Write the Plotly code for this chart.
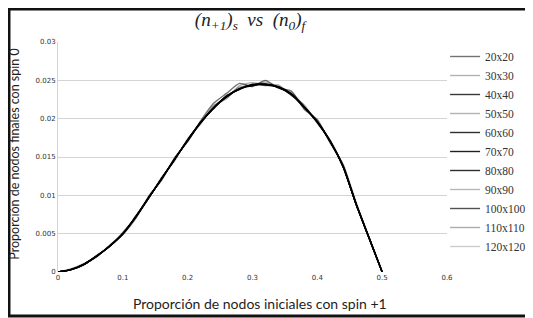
import plotly.graph_objects as go

x_vals = [0, 0.02, 0.04, 0.06, 0.08, 0.10, 0.12, 0.14, 0.16, 0.18, 0.20, 0.22, 0.24,
          0.26, 0.28, 0.30, 0.32, 0.34, 0.36, 0.38, 0.40, 0.42, 0.44, 0.46, 0.48, 0.50]

series_names = ["20x20", "30x30", "40x40", "50x50", "60x60", "70x70",
                "80x80", "90x90", "100x100", "110x110", "120x120"]

y_20 = [0, 0.0004, 0.0011, 0.0020, 0.0035, 0.0049, 0.0070, 0.0099, 0.0120, 0.0149, 0.0170, 0.0197, 0.0220,
        0.0233, 0.0246, 0.0242, 0.0250, 0.0240, 0.0236, 0.0212, 0.0199, 0.0168, 0.0140, 0.0090, 0.0045, 0]
y_30 = [0, 0.0003, 0.0009, 0.0022, 0.0033, 0.0052, 0.0071, 0.0096, 0.0124, 0.0145, 0.0174, 0.0193, 0.0217,
        0.0226, 0.0243, 0.0247, 0.0243, 0.0244, 0.0230, 0.0218, 0.0194, 0.0172, 0.0136, 0.0088, 0.0044, 0]
y_40 = [0, 0.0003, 0.0010, 0.0021, 0.0034, 0.0050, 0.0073, 0.0097, 0.0122, 0.0148, 0.0171, 0.0195, 0.0213,
        0.0230, 0.0238, 0.0245, 0.0244, 0.0242, 0.0232, 0.0214, 0.0196, 0.0170, 0.0137, 0.0088, 0.0044, 0]
y_50 = [0, 0.0003, 0.0010, 0.0020, 0.0035, 0.0051, 0.0072, 0.0098, 0.0121, 0.0147, 0.0173, 0.0194, 0.0216,
        0.0228, 0.0241, 0.0243, 0.0248, 0.0240, 0.0234, 0.0216, 0.0195, 0.0171, 0.0138, 0.0089, 0.0043, 0]
y_60 = [0, 0.0003, 0.0010, 0.0021, 0.0034, 0.0050, 0.0072, 0.0097, 0.0122, 0.0147, 0.0172, 0.0195, 0.0214,
        0.0229, 0.0239, 0.0244, 0.0245, 0.0241, 0.0232, 0.0215, 0.0196, 0.0170, 0.0137, 0.0088, 0.0044, 0]
y_70 = [0, 0.0003, 0.0010, 0.0021, 0.0034, 0.0050, 0.0072, 0.0097, 0.0122, 0.0147, 0.0172, 0.0195, 0.0214,
        0.0228, 0.0239, 0.0243, 0.0245, 0.0241, 0.0231, 0.0215, 0.0195, 0.0170, 0.0137, 0.0088, 0.0044, 0]
y_80 = [0, 0.0003, 0.0010, 0.0021, 0.0034, 0.0050, 0.0072, 0.0097, 0.0122, 0.0147, 0.0172, 0.0195, 0.0214,
        0.0229, 0.0239, 0.0244, 0.0244, 0.0241, 0.0232, 0.0215, 0.0196, 0.0170, 0.0137, 0.0088, 0.0044, 0]
y_90 = [0, 0.0003, 0.0010, 0.0021, 0.0034, 0.0050, 0.0072, 0.0098, 0.0122, 0.0148, 0.0172, 0.0196, 0.0215,
        0.0229, 0.0240, 0.0245, 0.0246, 0.0242, 0.0233, 0.0216, 0.0196, 0.0171, 0.0138, 0.0089, 0.0044, 0]
y_100 = [0, 0.0003, 0.0010, 0.0021, 0.0034, 0.0050, 0.0072, 0.0097, 0.0122, 0.0147, 0.0172, 0.0195, 0.0214,
         0.0229, 0.0239, 0.0244, 0.0245, 0.0241, 0.0232, 0.0215, 0.0196, 0.0170, 0.0137, 0.0088, 0.0044, 0]
y_110 = [0, 0.0003, 0.0010, 0.0021, 0.0034, 0.0050, 0.0072, 0.0097, 0.0122, 0.0147, 0.0172, 0.0195, 0.0214,
         0.0229, 0.0239, 0.0244, 0.0245, 0.0241, 0.0232, 0.0215, 0.0196, 0.0170, 0.0137, 0.0088, 0.0044, 0]
y_120 = [0, 0.0003, 0.0010, 0.0021, 0.0034, 0.0050, 0.0072, 0.0097, 0.0122, 0.0147, 0.0172, 0.0195, 0.0214,
         0.0229, 0.0239, 0.0244, 0.0245, 0.0241, 0.0232, 0.0215, 0.0196, 0.0170, 0.0137, 0.0088, 0.0044, 0]

series_values = [y_20, y_30, y_40, y_50, y_60, y_70, y_80, y_90, y_100, y_110, y_120]
series_colors = ["rgba(0,0,0,0.55)", "rgba(0,0,0,0.30)", "rgba(0,0,0,0.78)", "rgba(0,0,0,0.30)",
                 "rgba(0,0,0,0.82)", "rgba(0,0,0,0.88)", "rgba(0,0,0,0.82)", "rgba(0,0,0,0.28)",
                 "rgba(0,0,0,0.68)", "rgba(0,0,0,0.33)", "rgba(0,0,0,0.20)"]

x_ticks = [0, 0.1, 0.2, 0.3, 0.4, 0.5, 0.6]
x_tick_labels = ["0", "0.1", "0.2", "0.3", "0.4", "0.5", "0.6"]
y_ticks = [0, 0.005, 0.01, 0.015, 0.02, 0.025, 0.03]
y_tick_labels = ["0", "0.005", "0.01", "0.015", "0.02", "0.025", "0.03"]

title_text = "<i>(n<sub>+1</sub>)<sub>s</sub>  vs  (n<sub>0</sub>)<sub>f</sub></i>"
x_title = "Proporción de nodos iniciales con spin +1"
y_title = "Proporción de nodos finales con spin 0"

fig = go.Figure()
for name, ys, col in zip(series_names, series_values, series_colors):
    fig.add_trace(go.Scatter(x=x_vals, y=ys, mode="lines", name=name,
                             line=dict(color=col, width=1.4, shape="spline", smoothing=0.6)))

fig.update_layout(
    width=525, height=310,
    margin=dict(l=50, r=86, t=34, b=46, autoexpand=False),
    paper_bgcolor="white", plot_bgcolor="white",
    title=dict(text=title_text, x=0.461, xanchor="center", y=0.962, yanchor="middle",
               font=dict(family="Liberation Serif, serif", size=19, color="#222")),
    legend=dict(x=0.995, y=1.0, xanchor="left", yanchor="top",
                font=dict(family="Liberation Serif, serif", size=11.5, color="#333"),
                tracegroupgap=0, itemwidth=30, bgcolor="rgba(0,0,0,0)"),
    xaxis=dict(range=[0, 0.6], tickvals=x_ticks, ticktext=x_tick_labels,
               showgrid=False, zeroline=False, showline=False, automargin=False,
               tickfont=dict(family="DejaVu Sans", size=7, color="#333"), ticks=""),
    yaxis=dict(range=[0, 0.03], tickvals=y_ticks, ticktext=y_tick_labels,
               showgrid=True, gridcolor="#d4d4d4", gridwidth=1, automargin=False,
               zeroline=False, showline=True, linecolor="#d4d4d4", linewidth=1,
               tickfont=dict(family="DejaVu Sans", size=7, color="#333"), ticks=""),
    annotations=[
        dict(text=x_title, xref="paper", yref="paper", x=0.519, y=-0.135,
             xanchor="center", yanchor="middle", showarrow=False,
             font=dict(family="Lato, DejaVu Sans", size=14, color="#1e1e1e")),
        dict(text=y_title, xref="paper", yref="paper", x=-0.1105, y=0.51,
             xanchor="center", yanchor="middle", showarrow=False, textangle=-90,
             font=dict(family="Lato, DejaVu Sans", size=12.5, color="#1e1e1e")),
    ],
    shapes=[dict(type="rect", xref="paper", yref="paper",
                 x0=-0.126, x1=1.216, y0=-0.191, y1=1.143,
                 line=dict(color="#111", width=3), layer="above")],
)

fig.write_html("out.html")
